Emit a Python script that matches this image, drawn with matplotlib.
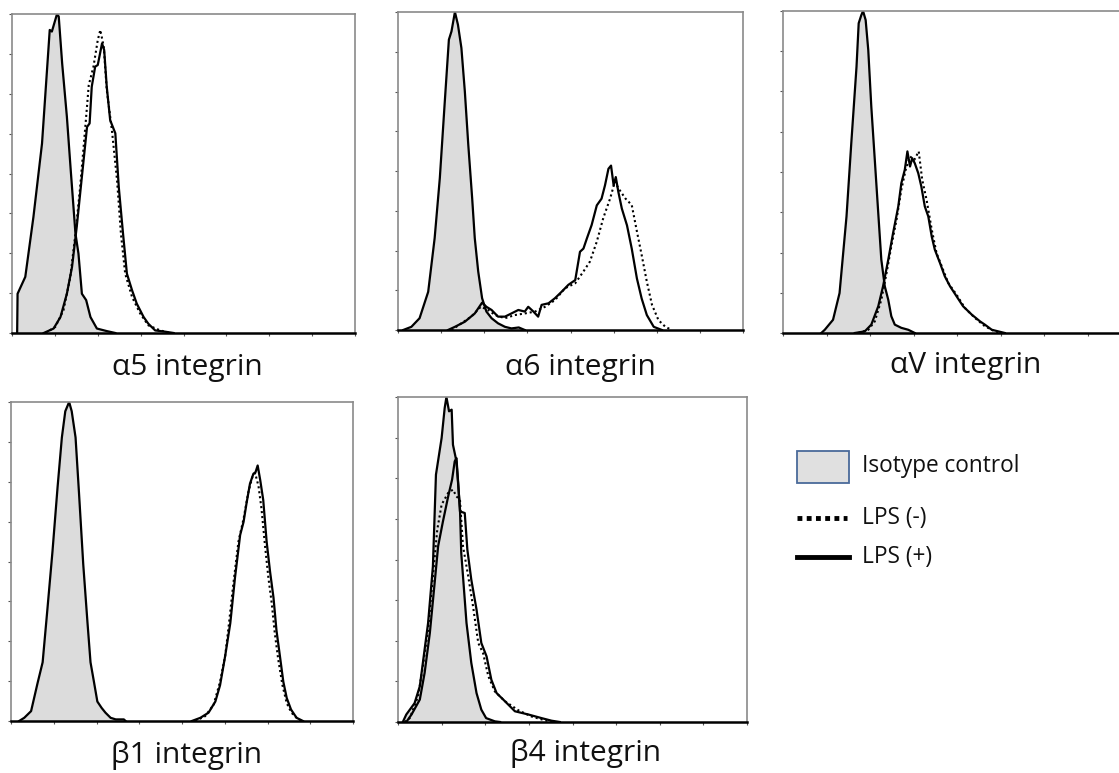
import matplotlib
matplotlib.use("Agg")
import matplotlib.pyplot as plt
from matplotlib.patches import Rectangle
from matplotlib.lines import Line2D

# ---------------- data (fluorescence units 0-8, % of max) ----------------
titles = ["α5 integrin", "α6 integrin", "αV integrin", "β1 integrin", "β4 integrin"]
legend_labels = ["Isotype control", "LPS (-)", "LPS (+)"]

# α5
a5_iso_x = [0.12, 0.13, 0.31, 0.50, 0.70, 0.88, 0.93, 1.05, 1.09, 1.17, 1.28, 1.37, 1.48, 1.55, 1.63, 1.73, 1.83, 1.98, 2.21, 2.41]
a5_iso_y = [0, 12.3, 17.6, 36.4, 59.4, 95.0, 94.5, 100, 99.2, 84.5, 67.8, 51.0, 31.2, 24.9, 12.3, 10.3, 5.0, 1.4, 0.6, 0]
a5_neg_x = [0.78, 1.01, 1.20, 1.36, 1.48, 1.59, 1.71, 1.79, 1.90, 2.00, 2.06, 2.14, 2.21, 2.33, 2.45, 2.54, 2.64, 2.80, 2.99, 3.18, 3.46, 3.69]
a5_neg_y = [0, 1.9, 7.1, 17.6, 31.2, 45.8, 64.6, 77.7, 83.5, 91.8, 95.0, 89.7, 76.2, 63.6, 47.9, 31.2, 18.6, 11.3, 6.1, 2.4, 0.8, 0]
a5_pos_x = [0.74, 0.97, 1.13, 1.28, 1.40, 1.51, 1.63, 1.75, 1.81, 1.86, 1.94, 2.00, 2.10, 2.15, 2.21, 2.29, 2.41, 2.49, 2.59, 2.68, 2.80, 2.91, 3.07, 3.18, 3.34, 3.53, 3.77]
a5_pos_y = [0, 1.4, 5.0, 12.3, 20.7, 33.3, 49.0, 64.6, 65.7, 77.2, 83.5, 84.0, 90.8, 88.7, 77.2, 66.7, 62.6, 45.8, 31.1, 18.6, 13.4, 9.2, 5.0, 2.9, 0.8, 0.5, 0]

# α6
a6_iso_x = [0.12, 0.31, 0.50, 0.70, 0.85, 0.97, 1.08, 1.18, 1.24, 1.32, 1.39, 1.47, 1.55, 1.63, 1.72, 1.78, 1.86, 1.95, 2.05, 2.17, 2.32, 2.48, 2.63, 2.80, 2.94]
a6_iso_y = [0, 1.0, 3.7, 12.0, 28.9, 47.8, 70.8, 91.3, 93.9, 100, 96.0, 88.7, 75.0, 58.2, 41.4, 28.9, 18.4, 10.0, 5.8, 3.7, 2.1, 1.0, 0.5, 0.8, 0]
a6_neg_x = [1.24, 1.47, 1.70, 1.92, 2.09, 2.25, 2.48, 2.71, 2.94, 3.18, 3.41, 3.64, 3.87, 4.11, 4.30, 4.45, 4.61, 4.76, 4.92, 5.03, 5.11, 5.27, 5.42, 5.54, 5.65, 5.77, 5.89, 6.04, 6.20, 6.35]
a6_neg_y = [0, 2.1, 4.2, 7.3, 6.3, 4.7, 3.7, 4.7, 5.2, 5.8, 7.3, 9.4, 13.1, 14.7, 18.4, 21.5, 27.8, 35.2, 41.4, 46.7, 44.6, 41.4, 39.3, 31.0, 23.6, 15.2, 7.9, 3.1, 1.0, 0]
a6_pos_x = [1.16, 1.32, 1.55, 1.78, 1.95, 2.05, 2.17, 2.32, 2.48, 2.63, 2.79, 2.94, 3.02, 3.14, 3.25, 3.33, 3.49, 3.64, 3.80, 3.95, 4.11, 4.22, 4.30, 4.38, 4.49, 4.61, 4.72, 4.80, 4.88, 4.94, 5.00, 5.05, 5.11, 5.19, 5.31, 5.42, 5.54, 5.65, 5.77, 5.93, 6.12]
a6_pos_y = [0, 1.0, 2.6, 5.2, 8.6, 7.3, 6.3, 4.2, 4.2, 5.2, 6.3, 5.8, 7.3, 5.8, 4.2, 7.9, 8.4, 10.0, 12.1, 14.2, 15.7, 24.6, 25.6, 28.8, 33.0, 39.2, 41.3, 45.5, 50.7, 51.7, 45.5, 48.1, 43.4, 38.2, 32.9, 25.6, 16.2, 9.9, 4.7, 1.0, 0]

# αV
av_iso_x = [0.88, 0.96, 1.15, 1.30, 1.46, 1.57, 1.69, 1.74, 1.80, 1.84, 1.90, 1.96, 2.03, 2.11, 2.19, 2.26, 2.34, 2.42, 2.49, 2.57, 2.72, 2.88, 3.03]
av_iso_y = [0, 1.0, 4.1, 12.4, 36.2, 59.0, 82.7, 96.2, 98.7, 100, 97.2, 87.9, 70.3, 53.8, 37.2, 22.8, 14.5, 10.3, 5.2, 2.6, 1.6, 1.0, 0]
av_neg_x = [1.73, 1.96, 2.11, 2.26, 2.38, 2.49, 2.61, 2.72, 2.82, 2.92, 3.02, 3.12, 3.20, 3.30, 3.42, 3.53, 3.65, 3.80, 3.99, 4.18, 4.41, 4.64, 4.87, 5.03]
av_neg_y = [0, 1.0, 3.6, 10.3, 18.6, 26.9, 35.2, 44.5, 50.7, 54.8, 53.8, 56.4, 47.6, 41.4, 32.1, 24.8, 20.7, 15.5, 11.9, 7.8, 4.7, 2.1, 0.5, 0]
av_pos_x = [1.65, 1.88, 2.03, 2.19, 2.30, 2.42, 2.53, 2.65, 2.72, 2.80, 2.86, 2.92, 2.97, 3.03, 3.11, 3.18, 3.26, 3.34, 3.42, 3.49, 3.61, 3.72, 3.84, 3.99, 4.14, 4.34, 4.53, 4.64, 4.80, 4.95, 5.10]
av_pos_y = [0, 0.5, 2.6, 8.3, 14.5, 22.8, 31.0, 39.3, 46.5, 50.7, 56.4, 51.7, 54.3, 52.7, 49.6, 45.5, 39.3, 36.2, 29.9, 25.9, 21.7, 17.6, 14.5, 11.4, 8.3, 5.7, 3.6, 2.6, 1.0, 0.5, 0]

# β1
b1_iso_x = [0.19, 0.31, 0.47, 0.62, 0.74, 0.85, 0.97, 1.09, 1.19, 1.27, 1.36, 1.42, 1.51, 1.59, 1.69, 1.79, 1.86, 1.94, 2.02, 2.12, 2.21, 2.33, 2.45, 2.64, 2.68]
b1_iso_y = [0, 1.0, 3.1, 11.8, 18.4, 34.8, 53.1, 73.4, 88.9, 97.1, 100, 97.1, 88.9, 71.6, 49.1, 30.7, 18.4, 12.3, 6.1, 4.1, 2.6, 1.0, 0.5, 0.5, 0]
b1_neg_x = [4.31, 4.54, 4.74, 4.89, 5.01, 5.10, 5.20, 5.32, 5.44, 5.55, 5.65, 5.71, 5.79, 5.86, 5.94, 6.02, 6.10, 6.17, 6.25, 6.35, 6.45, 6.56, 6.72, 6.83]
b1_neg_y = [0, 1.5, 5.1, 12.3, 20.4, 30.7, 42.9, 56.2, 63.4, 71.6, 76.7, 77.7, 73.6, 66.5, 55.2, 45.0, 36.8, 27.6, 19.4, 11.2, 5.6, 2.6, 0.5, 0]
b1_pos_x = [4.23, 4.43, 4.62, 4.78, 4.89, 5.01, 5.13, 5.24, 5.36, 5.44, 5.51, 5.59, 5.67, 5.72, 5.77, 5.83, 5.90, 5.98, 6.06, 6.14, 6.21, 6.29, 6.37, 6.45, 6.55, 6.68, 6.83]
b1_pos_y = [0, 1.0, 2.6, 6.1, 11.2, 20.4, 30.7, 45.0, 58.3, 62.4, 68.3, 74.4, 77.5, 78.0, 80.1, 75.5, 69.3, 56.2, 46.8, 38.7, 28.4, 20.4, 12.3, 7.2, 3.6, 1.0, 0]

# β4
b4_iso_x = [0.11, 0.19, 0.38, 0.50, 0.61, 0.69, 0.80, 0.87, 1.00, 1.07, 1.11, 1.17, 1.23, 1.26, 1.34, 1.42, 1.45, 1.57, 1.68, 1.80, 1.91, 2.02, 2.22, 2.34]
b4_iso_y = [0, 2.3, 5.8, 11.0, 22.3, 30.5, 47.9, 76.1, 87.4, 96.6, 100, 95.6, 96.1, 85.3, 80.2, 65.8, 52.0, 30.5, 18.2, 8.9, 3.8, 1.2, 0.2, 0]
b4_neg_x = [0.15, 0.27, 0.46, 0.57, 0.69, 0.80, 0.90, 1.00, 1.15, 1.26, 1.34, 1.42, 1.49, 1.61, 1.72, 1.84, 1.95, 2.07, 2.22, 2.45, 2.76, 3.06, 3.37, 3.60]
b4_neg_y = [0, 1.2, 7.9, 17.1, 28.4, 44.8, 59.2, 66.9, 70.5, 71.5, 69.4, 68.4, 54.1, 44.8, 35.6, 24.3, 21.2, 14.1, 9.4, 6.4, 3.6, 1.7, 0.5, 0]
b4_pos_x = [0.19, 0.31, 0.50, 0.61, 0.73, 0.84, 0.92, 1.03, 1.15, 1.24, 1.30, 1.34, 1.38, 1.42, 1.53, 1.59, 1.68, 1.80, 1.91, 2.03, 2.14, 2.26, 2.45, 2.68, 2.99, 3.29, 3.52, 3.71]
b4_pos_y = [0, 2.3, 6.9, 15.1, 27.4, 42.8, 54.1, 61.7, 69.4, 74.6, 80.2, 81.2, 73.5, 64.8, 64.3, 53.0, 43.8, 34.6, 24.3, 20.2, 13.0, 8.9, 6.4, 3.3, 2.3, 1.2, 0.4, 0]

panels_data = [
    (a5_iso_x, a5_iso_y, a5_neg_x, a5_neg_y, a5_pos_x, a5_pos_y),
    (a6_iso_x, a6_iso_y, a6_neg_x, a6_neg_y, a6_pos_x, a6_pos_y),
    (av_iso_x, av_iso_y, av_neg_x, av_neg_y, av_pos_x, av_pos_y),
    (b1_iso_x, b1_iso_y, b1_neg_x, b1_neg_y, b1_pos_x, b1_pos_y),
    (b4_iso_x, b4_iso_y, b4_neg_x, b4_neg_y, b4_pos_x, b4_pos_y),
]

# ---------------- layout (pixel boxes: left, right, top, bottom) ----------------
W, H = 1119, 773
boxes = [(12, 355, 14, 333), (398, 743, 12, 330), (783, 1131, 11, 333),
         (11, 353, 402, 721), (398, 747, 397, 722)]
title_pos = [(187, 368), (580, 368), (966, 366), (187, 755), (586, 753)]

FONT = "Open Sans"
fig = plt.figure(figsize=(W / 100, H / 100), dpi=100)
fill_color = "#dcdcdc"
frame_color = "#8a8a8a"

for (l, r, t, b), data, title, (tx, ty) in zip(boxes, panels_data, titles, title_pos):
    ax = fig.add_axes([l / W, 1 - b / H, (r - l) / W, (b - t) / H])
    ix, iy, nx, ny, px, py = data
    ax.fill_between(ix, iy, 0, color=fill_color, lw=0, zorder=1)
    ax.plot(ix, iy, color="black", lw=1.6, zorder=2)
    ax.plot(nx, ny, color="black", lw=1.5, linestyle=(0, (1.0, 1.4)), zorder=3)
    ax.plot(px, py, color="black", lw=1.6, zorder=4)
    ax.set_xlim(0, 8)
    ax.set_ylim(0, 100)
    ax.set_xticks(range(0, 9))
    ax.set_yticks([i * 12.5 for i in range(9)])
    ax.tick_params(axis="both", direction="out", length=2.5, width=0.8,
                   colors="#555555", labelbottom=False, labelleft=False)
    for side in ("left", "top", "right"):
        ax.spines[side].set_color(frame_color)
        ax.spines[side].set_linewidth(1.2)
    ax.spines["bottom"].set_color("black")
    ax.spines["bottom"].set_linewidth(1.8)
    fig.text(tx / W, 1 - ty / H, title, ha="center", va="center",
             fontsize=21.5, family=[FONT, "DejaVu Sans"], color="#111111")

# ---------------- legend ----------------
fig.patches.append(Rectangle((797 / W, 1 - 483 / H), 52 / W, 32 / H,
                             transform=fig.transFigure, facecolor="#e0e0e0",
                             edgecolor="#4a6a9a", lw=1.3))
fig.lines.append(Line2D([797 / W, 847 / W], [1 - 518 / H] * 2, transform=fig.transFigure,
                        color="black", lw=3.5, linestyle=(0, (1.0, 0.9))))
fig.lines.append(Line2D([797 / W, 849 / W], [1 - 557 / H] * 2, transform=fig.transFigure,
                        color="black", lw=3.5))
leg_y = [466, 518, 557]
for lab, yy in zip(legend_labels, leg_y):
    fig.text(862 / W, 1 - yy / H, lab, ha="left", va="center", fontsize=16.3,
             family=[FONT, "DejaVu Sans"], color="#111111")

fig.savefig("out.png", dpi=100)
